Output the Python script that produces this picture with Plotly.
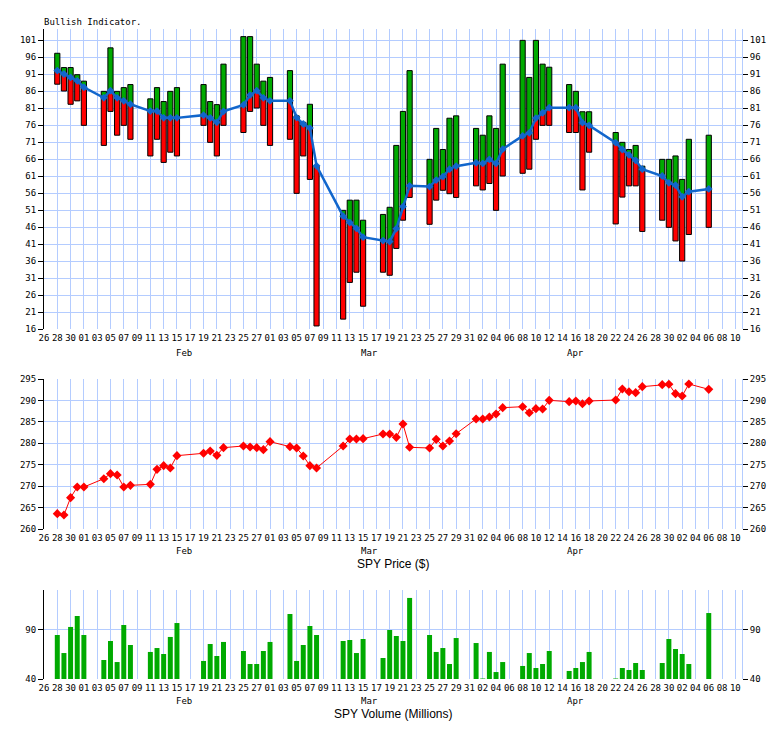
import plotly.graph_objects as go

dates = [
    "2019-01-28", "2019-01-29", "2019-01-30", "2019-01-31", "2019-02-01",
    "2019-02-04", "2019-02-05", "2019-02-06", "2019-02-07", "2019-02-08",
    "2019-02-11", "2019-02-12", "2019-02-13", "2019-02-14", "2019-02-15",
    "2019-02-19", "2019-02-20", "2019-02-21", "2019-02-22",
    "2019-02-25", "2019-02-26", "2019-02-27", "2019-02-28", "2019-03-01",
    "2019-03-04", "2019-03-05", "2019-03-06", "2019-03-07", "2019-03-08",
    "2019-03-12", "2019-03-13", "2019-03-14", "2019-03-15",
    "2019-03-18", "2019-03-19", "2019-03-20", "2019-03-21", "2019-03-22",
    "2019-03-25", "2019-03-26", "2019-03-27", "2019-03-28", "2019-03-29",
    "2019-04-01", "2019-04-02", "2019-04-03", "2019-04-04", "2019-04-05",
    "2019-04-08", "2019-04-09", "2019-04-10", "2019-04-11", "2019-04-12",
    "2019-04-15", "2019-04-16", "2019-04-17", "2019-04-18",
    "2019-04-22", "2019-04-23", "2019-04-24", "2019-04-25", "2019-04-26",
    "2019-04-29", "2019-04-30", "2019-05-01", "2019-05-02", "2019-05-03",
    "2019-05-06",
]

bull_high = [
    97.1, 92.9, 92.9, 90.8, 88.9,
    85.9, 98.7, 85.9, 87.0, 87.9,
    83.7, 87.0, 82.9, 85.9, 87.0,
    87.9, 82.9, 82.0, 93.9,
    102.0, 102.0, 93.9, 88.9, 90.0,
    92.0, 78.7, 76.8, 82.1, 64.0,
    50.9, 53.9, 53.9, 48.0,
    49.7, 51.8, 70.0, 80.0, 92.0,
    65.9, 75.0, 68.8, 78.0, 78.7,
    75.0, 73.0, 78.7, 75.0, 93.9,
    100.9, 90.0, 100.9, 93.9, 93.0,
    87.9, 85.9, 79.9, 79.9,
    73.8, 70.9, 68.8, 70.0, 63.9,
    65.9, 65.9, 66.9, 60.0, 71.8,
    73.0,
]

bull_avg = [
    92.0, 91.0, 90.0, 89.0, 87.1,
    84.0, 86.1, 84.0, 83.1, 82.1,
    80.1, 80.1, 78.1, 78.1, 78.1,
    78.9, 78.1, 76.8, 80.0,
    81.9, 84.8, 86.1, 84.0, 83.1,
    83.1, 78.2, 76.3, 75.1, 64.0,
    49.2, 47.3, 45.6, 43.0,
    42.0, 41.7, 45.5, 52.0, 58.1,
    57.9, 59.8, 60.8, 63.0, 63.9,
    64.9, 64.7, 65.9, 64.7, 68.9,
    72.8, 73.7, 78.0, 79.6, 81.1,
    81.1, 81.1, 76.7, 75.9,
    70.8, 68.8, 67.2, 65.6, 63.0,
    61.0, 59.0, 58.3, 54.9, 56.4,
    57.2,
]

bull_low = [
    88.0, 86.0, 82.1, 83.1, 75.9,
    70.0, 80.0, 73.0, 75.9, 71.8,
    66.9, 71.8, 65.0, 68.0, 66.9,
    75.9, 70.9, 66.9, 75.9,
    73.8, 80.0, 81.0, 75.9, 70.0,
    71.8, 55.9, 66.9, 60.0, 16.9,
    18.9, 29.7, 32.7, 22.7,
    32.7, 31.8, 39.7, 48.0, 54.7,
    46.8, 53.9, 56.8, 55.8, 54.7,
    58.1, 56.9, 58.8, 50.9, 61.0,
    61.8, 63.0, 71.8, 75.9, 75.9,
    73.8, 73.8, 56.9, 68.0,
    46.9, 54.8, 58.1, 58.1, 44.7,
    48.0, 45.9, 41.9, 36.0, 43.8,
    45.9,
]

price = [
    263.58, 263.27, 267.31, 269.80, 269.80,
    271.74, 272.91, 272.60, 269.80, 270.19,
    270.42, 273.92, 274.78, 274.23, 277.11,
    277.66, 278.20, 277.19, 278.98,
    279.37, 279.13, 278.98, 278.51, 280.38,
    279.21, 278.90, 277.03, 274.78, 274.23,
    279.37, 281.00, 281.00, 281.08,
    282.17, 282.17, 281.39, 284.50, 279.06,
    278.90, 280.92, 279.37, 280.53, 282.24,
    285.67, 285.67, 286.13, 286.83, 288.31,
    288.54, 287.14, 288.08, 288.00, 290.02,
    289.71, 289.87, 289.24, 289.87,
    290.10, 292.67, 292.04, 291.81, 293.21,
    293.68, 293.76, 291.58, 291.03, 293.83,
    292.59,
]

volume = [
    84.9, 66.5, 93.1, 104.3, 84.9,
    59.4, 78.8, 57.3, 95.1, 74.7,
    67.6, 71.6, 65.5, 82.9, 97.1,
    58.4, 75.7, 63.5, 77.8,
    68.6, 55.3, 55.3, 68.6, 77.8,
    106.3, 58.4, 74.7, 94.1, 84.9,
    78.8, 79.8, 66.5, 80.8,
    61.4, 90.0, 83.9, 78.8, 122.7,
    84.9, 67.6, 71.6, 55.3, 81.8,
    76.7, 40.5, 67.6, 47.1, 57.3,
    53.3, 66.5, 51.2, 55.3, 68.6,
    48.2, 51.2, 57.3, 67.6,
    40.5, 51.2, 49.2, 56.3, 49.2,
    56.3, 80.8, 70.6, 65.5, 55.3,
    107.3,
]

month_labels = ["Feb", "Mar", "Apr"]
month_pos = ["2019-02-16", "2019-03-16", "2019-04-16"]

DAY = 86400000
BAR_W = 0.78 * DAY
GRID = "#b4ccff"
MONO = "DejaVu Sans Mono"
X_RANGE = ["2019-01-26", "2019-05-11"]

# split each indicator bar at the average line: red below, green above
red_base, red_h, green_base, green_h = [], [], [], []
for hi, av, lo in zip(bull_high, bull_avg, bull_low):
    top_red = min(av, hi)
    if top_red > lo:
        red_base.append(lo)
        red_h.append(top_red - lo)
    else:
        red_base.append(None)
        red_h.append(None)
    bot_green = max(av, lo)
    if hi > bot_green:
        green_base.append(bot_green)
        green_h.append(hi - bot_green)
    else:
        green_base.append(None)
        green_h.append(None)

fig = go.Figure()

fig.add_trace(go.Bar(x=dates, y=red_h, base=red_base, width=BAR_W,
                     marker=dict(color="#ff0000", line=dict(color="black", width=1)),
                     xaxis="x", yaxis="y", hoverinfo="skip"))
fig.add_trace(go.Bar(x=dates, y=green_h, base=green_base, width=BAR_W,
                     marker=dict(color="#00aa00", line=dict(color="black", width=1)),
                     xaxis="x", yaxis="y", hoverinfo="skip"))
fig.add_trace(go.Scatter(x=dates, y=bull_avg, mode="lines+markers",
                         line=dict(color="#1166cc", width=2.5),
                         marker=dict(symbol="diamond", size=6, color="#1166cc"),
                         xaxis="x", yaxis="y"))

fig.add_trace(go.Scatter(x=dates, y=price, mode="lines+markers",
                         line=dict(color="#ff0000", width=1),
                         marker=dict(symbol="diamond", size=7, color="#ff0000"),
                         xaxis="x2", yaxis="y2"))

fig.add_trace(go.Bar(x=dates, y=volume, width=0.75 * DAY,
                     marker=dict(color="#00aa00", line=dict(width=0)),
                     xaxis="x3", yaxis="y3"))

# invisible traces to materialise right-hand axes
for ya, yv in (("y4", bull_avg[0]), ("y5", price[0]), ("y6", volume[0])):
    xa = {"y4": "x", "y5": "x2", "y6": "x3"}[ya]
    fig.add_trace(go.Scatter(x=[dates[0]], y=[yv], mode="markers",
                             marker=dict(opacity=0), xaxis=xa, yaxis=ya,
                             hoverinfo="skip"))

tickfont = dict(family=MONO, size=9, color="black")

def xax(anchor, match=None):
    d = dict(type="date", range=X_RANGE, anchor=anchor, domain=[0, 1],
             tick0="2019-01-26", dtick=2 * DAY, tickformat="%d",
             showgrid=True, gridcolor=GRID, gridwidth=1, ticks="",
             showline=False, zeroline=False, tickfont=tickfont, ticklabelstandoff=2)
    if match:
        d["matches"] = match
    return d

def yax(domain, rng, tick0, dtick, anchor):
    return dict(domain=domain, range=rng, anchor=anchor, tick0=tick0, dtick=dtick,
                ticks="outside", ticklen=5, tickcolor="black", tickwidth=1,
                showline=True, linecolor="black", linewidth=1,
                showgrid=True, gridcolor=GRID, gridwidth=1, zeroline=False,
                tickfont=tickfont)

def yright(over, rng, tick0, dtick, anchor):
    return dict(overlaying=over, side="right", anchor=anchor, range=rng,
                tick0=tick0, dtick=dtick, ticks="outside", ticklen=5,
                tickcolor="black", tickwidth=1, showline=True, linecolor=GRID,
                linewidth=1, showgrid=False, zeroline=False, tickfont=tickfont)

# page pixel positions (the page body adds an 8px offset)
H = 650.0
def py(px):
    return (679 - px) / H

dom1 = [py(329), py(29)]
dom2 = [py(529), py(379)]
dom3 = [0, py(590)]
r1 = [16, 104.24]
r2 = [260, 295]
r3 = [40, 130.8]

annotations = [
    dict(text="Bullish Indicator.", xref="paper", yref="paper", x=-0.003, y=py(22),
         xanchor="left", yanchor="middle", showarrow=False,
         font=dict(family=MONO, size=9, color="black")),
    dict(text="SPY Price ($)", xref="paper", yref="paper", x=(392 - 42) / 700, y=py(564),
         xanchor="center", yanchor="middle", showarrow=False,
         font=dict(family="Liberation Sans", size=12, color="black")),
    dict(text="SPY Volume (Millions)", xref="paper", yref="paper", x=(392 - 42) / 700,
         y=py(714), xanchor="center", yanchor="middle", showarrow=False,
         font=dict(family="Liberation Sans", size=12, color="black")),
]
for ypx in (353, 551, 701):
    for lab, pos in zip(month_labels, month_pos):
        annotations.append(dict(text=lab, xref="x", yref="paper", x=pos, y=py(ypx),
                                xanchor="center", yanchor="middle", showarrow=False,
                                font=dict(family=MONO, size=9, color="black")))

fig.update_layout(
    width=776, height=721,
    margin=dict(l=34, r=42, t=21, b=50, pad=0),
    paper_bgcolor="white", plot_bgcolor="white",
    showlegend=False, barmode="overlay",
    xaxis=xax("y"),
    xaxis2=xax("y2", "x"),
    xaxis3=xax("y3", "x"),
    yaxis=yax(dom1, r1, 16, 5, "x"),
    yaxis2=yax(dom2, r2, 260, 5, "x2"),
    yaxis3=yax(dom3, r3, 40, 50, "x3"),
    yaxis4=yright("y", r1, 16, 5, "x"),
    yaxis5=yright("y2", r2, 260, 5, "x2"),
    yaxis6=yright("y3", r3, 40, 50, "x3"),
    annotations=annotations,
)

fig.write_html("out.html")
